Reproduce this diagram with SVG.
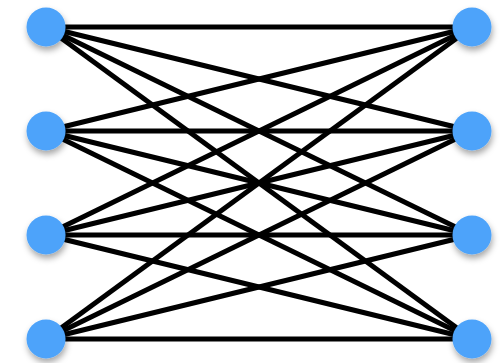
<svg xmlns="http://www.w3.org/2000/svg" width="501" height="363" viewBox="0 0 501 363">
<defs>
<style>
.e{stroke:#000;stroke-width:5;fill:none}
.n{fill:#4DA3FA;filter:url(#sh)}
</style>
<filter id="sh" x="-50%" y="-50%" width="200%" height="200%">
<feDropShadow dx="1" dy="4" stdDeviation="3" flood-color="#000" flood-opacity="0.35"/>
</filter>
</defs>
<rect width="501" height="363" fill="#fff"/>
<g id="edges" class="e">
<line x1="46" y1="27" x2="472" y2="27"/>
<line x1="46" y1="27" x2="472" y2="131"/>
<line x1="46" y1="27" x2="472" y2="235"/>
<line x1="46" y1="27" x2="472" y2="339"/>
<line x1="46" y1="131" x2="472" y2="27"/>
<line x1="46" y1="131" x2="472" y2="131"/>
<line x1="46" y1="131" x2="472" y2="235"/>
<line x1="46" y1="131" x2="472" y2="339"/>
<line x1="46" y1="235" x2="472" y2="27"/>
<line x1="46" y1="235" x2="472" y2="131"/>
<line x1="46" y1="235" x2="472" y2="235"/>
<line x1="46" y1="235" x2="472" y2="339"/>
<line x1="46" y1="339" x2="472" y2="27"/>
<line x1="46" y1="339" x2="472" y2="131"/>
<line x1="46" y1="339" x2="472" y2="235"/>
<line x1="46" y1="339" x2="472" y2="339"/>
</g>
<g id="L1"><circle class="n" cx="46" cy="27" r="19.5"/></g>
<g id="L2"><circle class="n" cx="46" cy="131" r="19.5"/></g>
<g id="L3"><circle class="n" cx="46" cy="235" r="19.5"/></g>
<g id="L4"><circle class="n" cx="46" cy="339" r="19.5"/></g>
<g id="R1"><circle class="n" cx="472" cy="27" r="19.5"/></g>
<g id="R2"><circle class="n" cx="472" cy="131" r="19.5"/></g>
<g id="R3"><circle class="n" cx="472" cy="235" r="19.5"/></g>
<g id="R4"><circle class="n" cx="472" cy="339" r="19.5"/></g>
</svg>
